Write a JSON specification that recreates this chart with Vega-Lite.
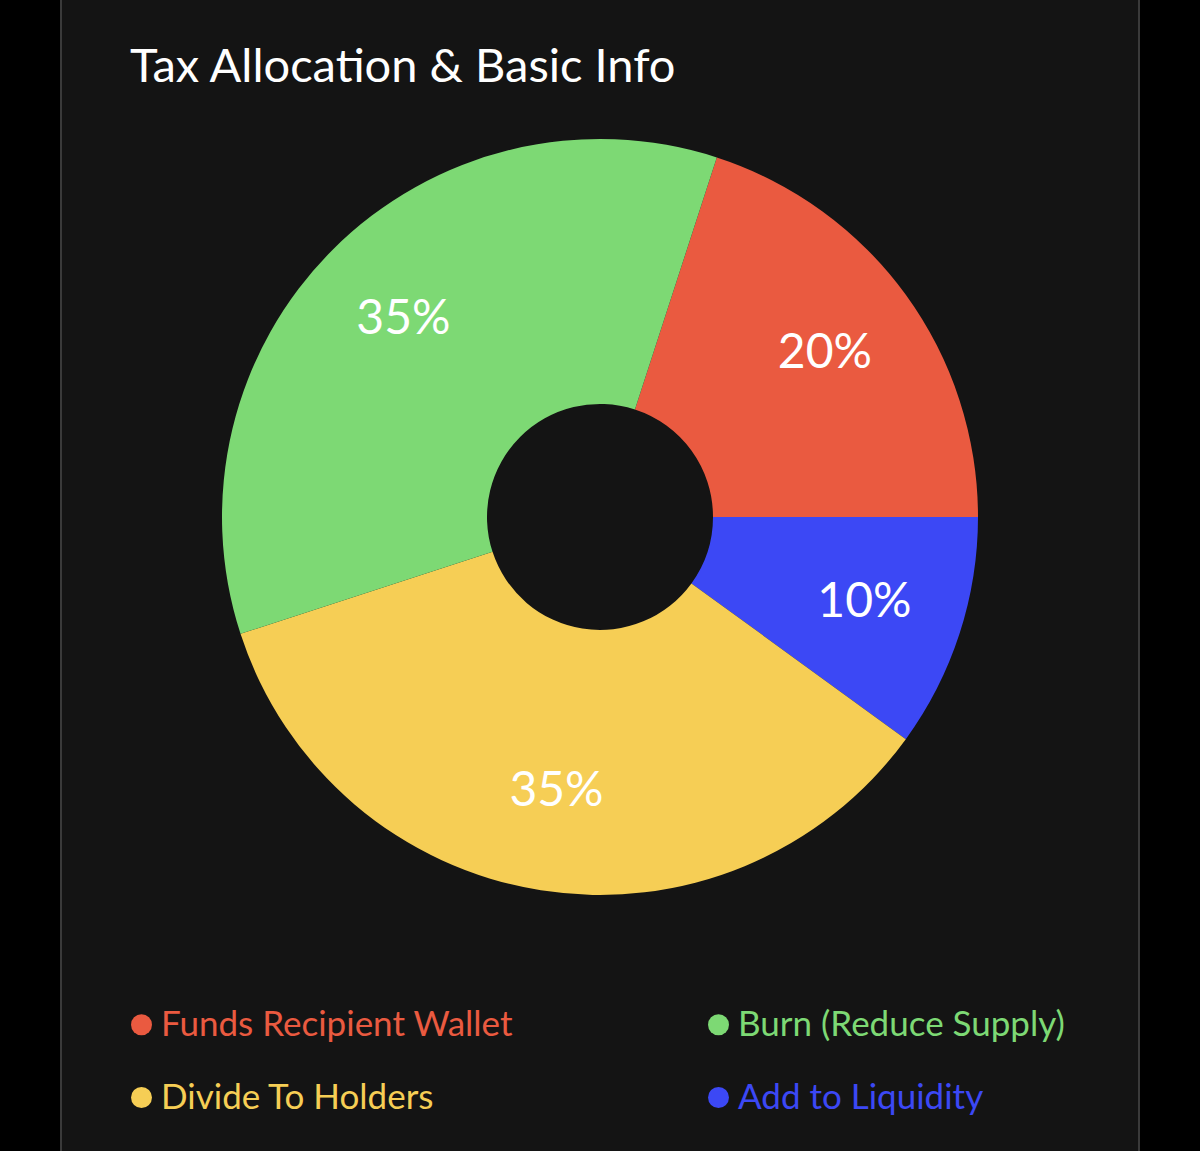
{
  "$schema": "https://vega.github.io/schema/vega-lite/v6.json",
  "width": 1078,
  "height": 1157,
  "autosize": "none",
  "padding": {"left": 61, "right": 61, "top": -3, "bottom": -3},
  "background": "#000000",
  "view": {"fill": "#141414", "stroke": "#3a3a3a", "strokeWidth": 2},
  "config": {
    "font": "Lato"
  },
  "title": {
    "text": "Tax Allocation & Basic Info",
    "anchor": "start",
    "frame": "group",
    "orient": "top",
    "baseline": "alphabetic",
    "offset": 0,
    "dx": 69,
    "dy": 132,
    "fontSize": 47,
    "fontWeight": "normal",
    "font": "Lato",
    "color": "#ffffff"
  },
  "data": {
    "values": [
      {"name": "Funds Recipient Wallet", "value": 20, "label": "20%", "ord": 1},
      {"name": "Add to Liquidity", "value": 10, "label": "10%", "ord": 2},
      {"name": "Divide To Holders", "value": 35, "label": "35%", "ord": 3},
      {"name": "Burn (Reduce Supply)", "value": 35, "label": "35%", "ord": 4}
    ]
  },
  "encoding": {
    "theta": {"field": "value", "type": "quantitative", "stack": true, "scale": {"range": [0.31416, 6.59734]}},
    "order": {"field": "ord", "type": "quantitative"}
  },
  "layer": [
    {
      "mark": {"type": "arc", "radius": 378, "innerRadius": 113, "y": {"expr": "height*0.4494"}, "stroke": null},
      "encoding": {
        "color": {
          "field": "name",
          "type": "nominal",
          "scale": {
            "domain": ["Funds Recipient Wallet", "Burn (Reduce Supply)", "Divide To Holders", "Add to Liquidity"],
            "range": ["#EA5A40", "#7DD974", "#F6CE55", "#3C48F5"]
          },
          "legend": {
            "title": null,
            "orient": "none",
            "direction": "horizontal",
            "legendX": 63,
            "legendY": 1010,
            "columns": 2,
            "columnPadding": 188,
            "rowPadding": 37,
            "symbolType": "circle",
            "symbolSize": 440,
            "symbolStrokeWidth": 0,
            "symbolOpacity": 1,
            "labelFontSize": 35,
            "labelFont": "Lato",
            "labelOffset": 2,
            "labelLimit": 600,
            "labelColor": {"expr": "scale('color', datum.value)"}
          }
        }
      }
    },
    {
      "mark": {"type": "text", "radius": 278, "y": {"expr": "height*0.4494"}, "fontSize": 48, "font": "Lato", "color": "#ffffff"},
      "encoding": {
        "text": {"field": "label", "type": "nominal"}
      }
    }
  ]
}
